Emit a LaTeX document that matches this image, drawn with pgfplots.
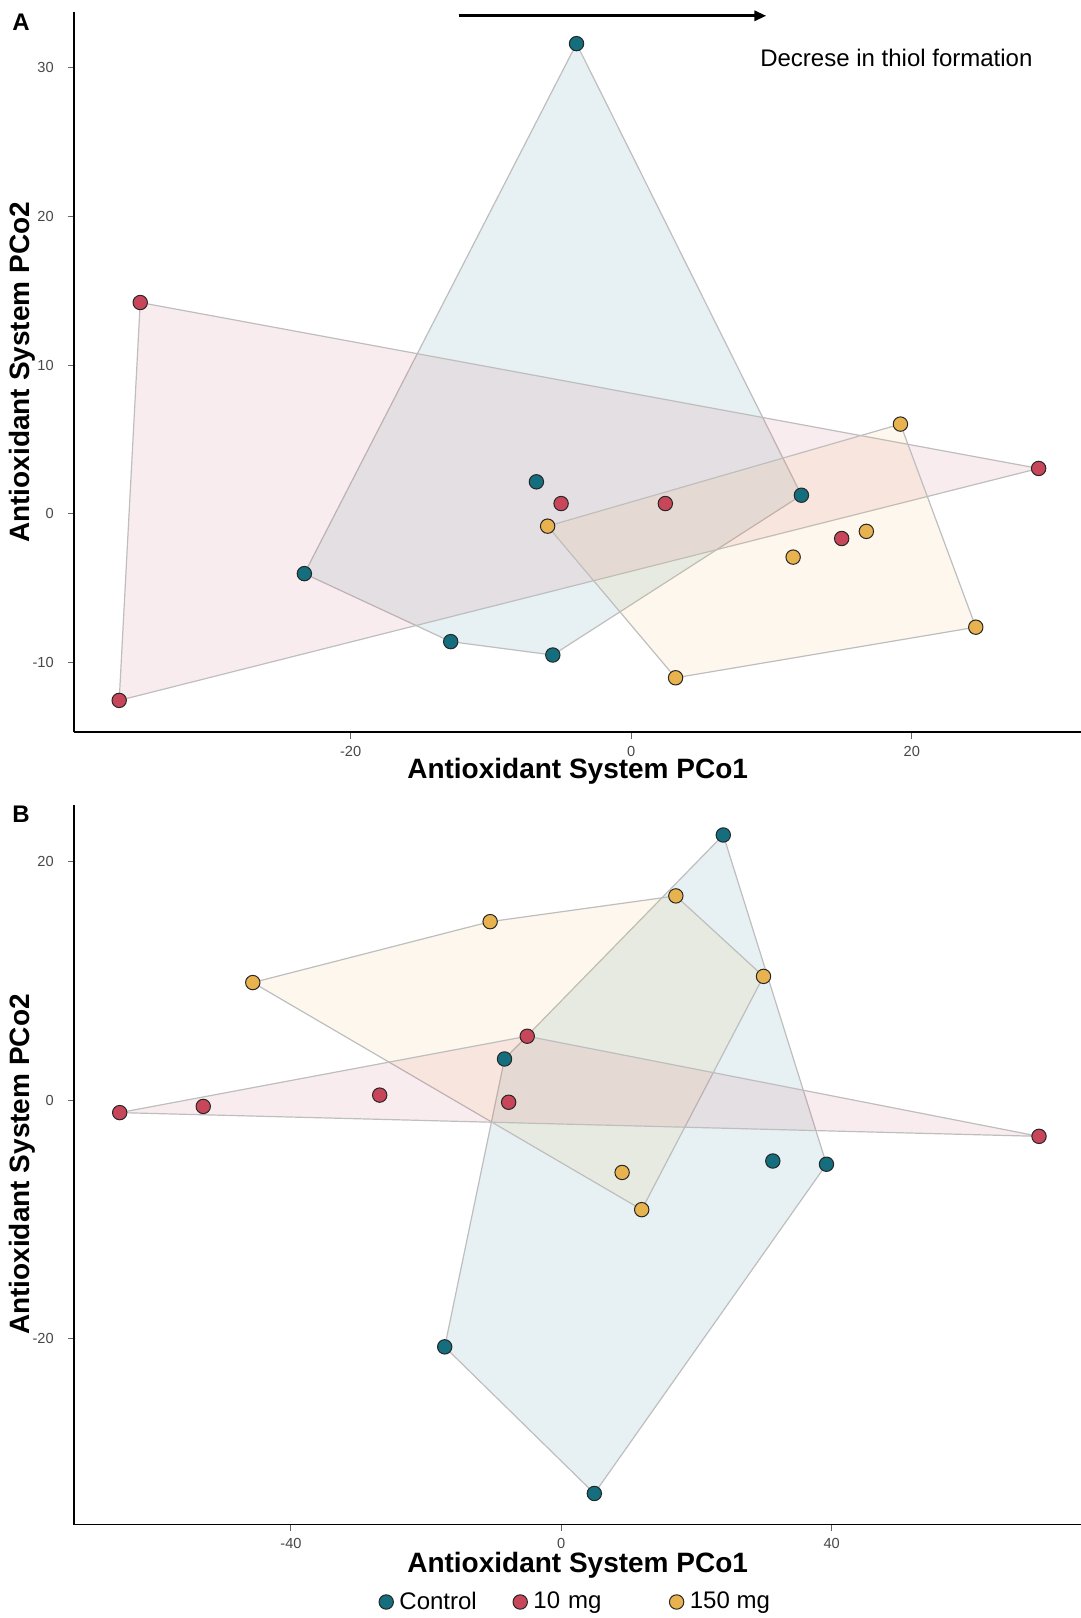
\documentclass[border=0pt]{standalone}
\usepackage{fontspec}
\setmainfont{Liberation Sans}
\usepackage{pgfplots}
\pgfplotsset{compat=1.18}
\usetikzlibrary{arrows.meta}

\definecolor{ctrl}{RGB}{20,110,125}
\definecolor{mgten}{RGB}{200,70,90}
\definecolor{mgone}{RGB}{232,178,78}
\definecolor{hull}{RGB}{190,190,190}

\pgfplotsset{
  pco/.style={
    scale only axis,
    width=503.35pt, height=360pt,
    axis lines=left,
    axis line style={-, line width=0.9pt, black},
    tick align=outside,
    major tick length=3.3pt,
    tick style={gray!80!black, line width=0.5pt},
    ticklabel style={font=\fontsize{7.3}{8}\selectfont, text=black!72},
    yticklabel style={xshift=-3.5pt},
    xlabel style={font=\fontsize{14}{16}\selectfont\bfseries},
    ylabel style={font=\fontsize{14}{16}\selectfont\bfseries},
    xlabel={Antioxidant System PCo1},
    ylabel={Antioxidant System PCo2},
    clip=false,
  },
  pts/.style={only marks, mark=*, mark size=3.6pt,
    mark options={draw=black!85, line width=0.5pt, fill=#1}, forget plot},
  hl/.style={draw=hull, line width=0.6pt, fill=#1, fill opacity=0.1, forget plot},
}

\begin{document}
\begin{tikzpicture}
\useasboundingbox (0,0) rectangle (540.5pt,809pt);

% Panel A
\begin{axis}[pco, at={(37.15pt,442.8pt)}, anchor=south west,
  xmin=-39.7, xmax=32.06, ymin=-14.69, ymax=33.7,
  xtick={-20,0,20}, xticklabels={-20,0,20},
  ytick={-10,0,10,20,30}, yticklabels={-10,0,10,20,30},
  xlabel style={at={(axis description cs:0.5,-0.054)}, anchor=center},
  ylabel style={at={(axis description cs:-0.0514,0.5)}, anchor=center},
]
\addplot[hl=ctrl] coordinates {(-3.9,31.6) (12.13,1.25) (-5.59,-9.49) (-12.87,-8.59) (-23.3,-4.02)} -- cycle;
\addplot[hl=mgten] coordinates {(-35.0,14.2) (29.04,3.05) (-36.5,-12.54)} -- cycle;
\addplot[hl=mgone] coordinates {(19.19,6.03) (24.56,-7.62) (3.16,-11.02) (-5.96,-0.83)} -- cycle;

\addplot[pts=ctrl] coordinates {(-3.9,31.6) (-6.76,2.15) (12.13,1.25) (-23.3,-4.02) (-12.87,-8.59) (-5.59,-9.49)};
\addplot[pts=mgten] coordinates {(-35.0,14.2) (-36.5,-12.54) (29.04,3.05) (-5.0,0.69) (2.43,0.69) (15.0,-1.66)};
\addplot[pts=mgone] coordinates {(19.19,6.03) (-5.96,-0.83) (16.76,-1.18) (11.54,-2.91) (24.56,-7.62) (3.16,-11.02)};

\draw[line width=1.5pt, -{Triangle[length=6pt,width=5pt]}] (axis cs:-12.3,33.47) -- (axis cs:9.63,33.47);
\node[font=\fontsize{12}{14}\selectfont, anchor=center] at (axis cs:18.9,30.65) {Decrese in thiol formation};
\node[font=\fontsize{12}{14}\selectfont\bfseries, anchor=center] at (axis description cs:-0.0529,0.986) {A};
\end{axis}

% Panel B
\begin{axis}[pco, at={(37.15pt,46.7pt)}, anchor=south west,
  xmin=-72.06, xmax=76.9, ymin=-35.6, ymax=24.8,
  xtick={-40,0,40}, xticklabels={-40,0,40},
  ytick={-20,0,20}, yticklabels={-20,0,20},
  xlabel style={at={(axis description cs:0.5,-0.056)}, anchor=center},
  ylabel style={at={(axis description cs:-0.0514,0.5)}, anchor=center},
  legend style={at={(axis description cs:0.3023,-0.1075)}, anchor=west,
    draw=none, inner sep=0pt, legend columns=3,
    font=\fontsize{12}{14}\selectfont,
    /tikz/every even column/.append style={column sep=0pt},
    nodes={inner xsep=3pt}},
  legend image code/.code={\draw[#1] plot coordinates {(0pt,0pt)};},
]
\addplot[hl=ctrl] coordinates {(23.97,22.25) (39.24,-5.37) (4.89,-32.99) (-17.25,-20.69) (-8.4,3.46)} -- cycle;
\addplot[hl=mgone] coordinates {(-45.65,9.87) (-10.53,14.98) (16.95,17.14) (29.92,10.39) (11.9,-9.18)} -- cycle;
\addplot[hl=mgten] coordinates {(-65.34,-1.04) (-5.04,5.37) (70.69,-3.03)} -- cycle;

\addplot[only marks, mark=*, mark size=3.6pt, mark options={draw=black!85, line width=0.5pt, fill=ctrl}]
  coordinates {(23.97,22.25) (-8.4,3.46) (31.3,-5.1) (39.24,-5.37) (-17.25,-20.69) (4.89,-32.99)};
\addlegendentry[text width=53.8pt]{Control}
\addplot[only marks, mark=*, mark size=3.6pt, mark options={draw=black!85, line width=0.5pt, fill=mgten}]
  coordinates {(-5.04,5.37) (-26.87,0.43) (-7.79,-0.17) (-52.98,-0.52) (-65.34,-1.04) (70.69,-3.03)};
\addlegendentry[text width=65pt]{10 mg}
\addplot[only marks, mark=*, mark size=3.6pt, mark options={draw=black!85, line width=0.5pt, fill=mgone}]
  coordinates {(16.95,17.14) (-10.53,14.98) (-45.65,9.87) (29.92,10.39) (9.0,-6.06) (11.9,-9.18)};
\addlegendentry{150 mg}
\node[font=\fontsize{12}{14}\selectfont\bfseries, anchor=center] at (axis description cs:-0.0529,0.986) {B};
\end{axis}
\end{tikzpicture}
\end{document}
